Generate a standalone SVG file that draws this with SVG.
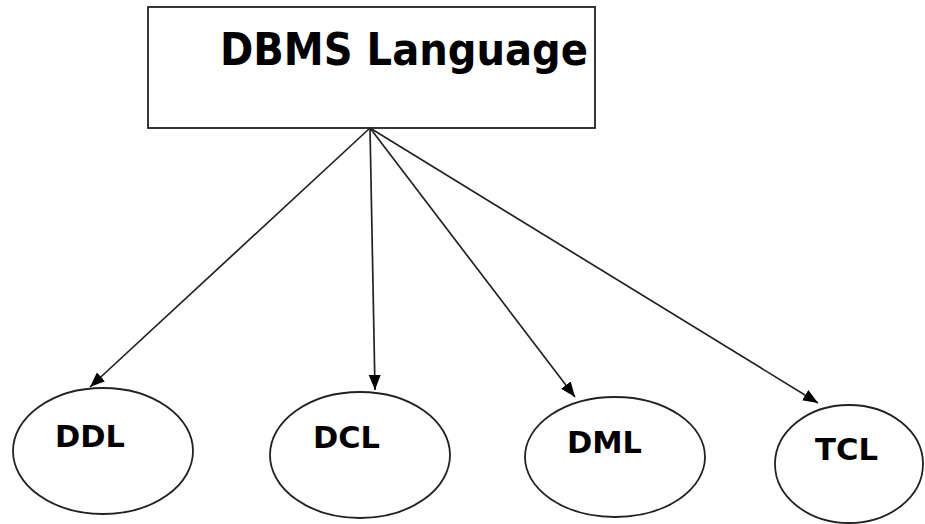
<svg xmlns="http://www.w3.org/2000/svg" width="925" height="524" viewBox="0 0 925 524">
<style>
.title{font-family:"DejaVu Sans",Verdana,sans-serif;font-weight:bold;font-size:45px;fill:#000}
.lbl{font-family:"DejaVu Sans",Verdana,sans-serif;font-weight:bold;font-size:30px;fill:#000}
.node{fill:#fff;stroke:#222;stroke-width:1.8}
.conn{stroke:#222;stroke-width:1.7;fill:none;marker-end:url(#ah)}
</style>
<defs>
<marker id="ah" markerUnits="userSpaceOnUse" markerWidth="16" markerHeight="14" refX="15" refY="6" orient="auto">
<path d="M0,0 L15,6 L0,12 Z" fill="#000"/>
</marker>
</defs>
<rect width="925" height="524" fill="#fff"/>
<g id="dbms">
<rect class="node" x="148" y="7" width="447" height="121"/>
<text class="title" x="220" y="65" textLength="368" lengthAdjust="spacingAndGlyphs">DBMS Language</text>
</g>
<g id="connectors">
<line class="conn" x1="370" y1="128" x2="90" y2="387"/>
<line class="conn" x1="370" y1="128" x2="375" y2="390"/>
<line class="conn" x1="370" y1="128" x2="575" y2="397"/>
<line class="conn" x1="370" y1="128" x2="818" y2="403"/>
</g>
<g id="ddl">
<ellipse class="node" cx="103" cy="451" rx="90" ry="63"/>
<text class="lbl" x="55" y="447" textLength="70" lengthAdjust="spacingAndGlyphs">DDL</text>
</g>
<g id="dcl">
<ellipse class="node" cx="360" cy="455" rx="90" ry="63"/>
<text class="lbl" x="313" y="448" textLength="67" lengthAdjust="spacingAndGlyphs">DCL</text>
</g>
<g id="dml">
<ellipse class="node" cx="615" cy="457" rx="90" ry="60"/>
<text class="lbl" x="567" y="453" textLength="75" lengthAdjust="spacingAndGlyphs">DML</text>
</g>
<g id="tcl">
<ellipse class="node" cx="849" cy="464" rx="74" ry="59"/>
<text class="lbl" x="815" y="460" textLength="63" lengthAdjust="spacingAndGlyphs">TCL</text>
</g>
</svg>
